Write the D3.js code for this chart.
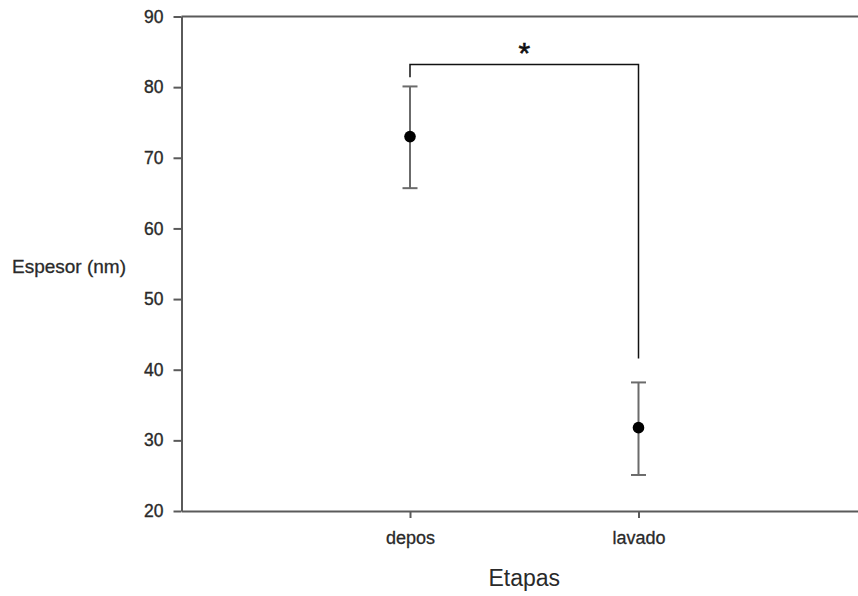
<!DOCTYPE html>
<html>
<head>
<meta charset="utf-8">
<script src="https://cdn.jsdelivr.net/npm/d3@7"></script>
<style>
  html, body { margin: 0; padding: 0; background: #fff; }
  svg { display: block; font-family: "Liberation Sans", Arial, sans-serif; }
</style>
</head>
<body>
<script>
// ---- data ----
const categories = ["depos", "lavado"];
const means = [73.0, 31.8];
const upper = [80.1, 38.2];
const lower = [65.7, 25.1];
const yTicks = [20, 30, 40, 50, 60, 70, 80, 90];
const bracketTop = 83.2;        // horizontal bracket level
const bracketEnds = [81.4, 41.6]; // where each leg stops
const sigLabel = "*";
const xTitle = "Etapas";
const yTitle = "Espesor (nm)";

const W = 858, H = 596;
const svg = d3.select("body").append("svg").attr("width", W).attr("height", H);

const x = d3.scaleLinear().domain([0, 3]).range([181.5, 867]);
const y = d3.scaleLinear().domain([20, 90]).range([511, 16.5]);

const axisColor = "#5a5a5a";
const textColor = "#2a2a2a";

// left axis
const yAxis = svg.append("g").attr("transform", `translate(${x(0)},0)`)
  .call(d3.axisLeft(y).tickValues(yTicks).tickSize(8).tickSizeOuter(0).tickPadding(10).tickFormat(d3.format("d")));
yAxis.select(".domain").attr("stroke", axisColor).attr("stroke-width", 2);
yAxis.selectAll(".tick line").attr("stroke", axisColor).attr("stroke-width", 2);
yAxis.selectAll(".tick text").attr("fill", textColor).style("font-size", "17.5px")
  .attr("stroke", textColor).attr("stroke-width", 0.35)
  .style("font-family", "'Liberation Sans', Arial, sans-serif");

// top line
svg.append("line").attr("x1", x(0)).attr("x2", W).attr("y1", y(90)).attr("y2", y(90))
  .attr("stroke", axisColor).attr("stroke-width", 2);

// bottom axis
const xAxis = svg.append("g").attr("transform", `translate(0,${y(20)})`)
  .call(d3.axisBottom(x).tickValues([1, 2]).tickFormat(d => categories[d - 1]).tickSize(7).tickSizeOuter(0).tickPadding(13));
xAxis.select(".domain").attr("stroke", axisColor).attr("stroke-width", 2);
xAxis.selectAll(".tick line").attr("stroke", axisColor).attr("stroke-width", 2);
xAxis.selectAll(".tick text").attr("fill", textColor).style("font-size", "18px")
  .attr("stroke", textColor).attr("stroke-width", 0.3)
  .style("font-family", "'Liberation Sans', Arial, sans-serif");

// axis titles
svg.append("text").attr("x", x(1.5)).attr("y", 586).attr("text-anchor", "middle")
  .attr("fill", textColor).style("font-size", "23px").text(xTitle);
svg.append("text").attr("x", 12).attr("y", 273).attr("text-anchor", "start")
  .attr("fill", textColor).attr("stroke", textColor).attr("stroke-width", 0.3)
  .style("font-size", "19px").text(yTitle);

// error bars
const errColor = "#6b6b6b";
const g = svg.append("g");
categories.forEach((c, i) => {
  const cx = x(i + 1);
  g.append("line").attr("x1", cx).attr("x2", cx).attr("y1", y(upper[i])).attr("y2", y(lower[i]))
    .attr("stroke", errColor).attr("stroke-width", 2);
  [upper[i], lower[i]].forEach(v => {
    g.append("line").attr("x1", cx - 7.5).attr("x2", cx + 7.5).attr("y1", y(v)).attr("y2", y(v))
      .attr("stroke", errColor).attr("stroke-width", 2);
  });
  g.append("circle").attr("cx", cx).attr("cy", y(means[i])).attr("r", 5.8).attr("fill", "#000");
});

// significance bracket
svg.append("path")
  .attr("d", `M${x(1)},${y(bracketEnds[0])} V${y(bracketTop)} H${x(2)} V${y(bracketEnds[1])}`)
  .attr("fill", "none").attr("stroke", "#111").attr("stroke-width", 1.5);
svg.append("text").attr("x", x(1.5)).attr("y", 63).attr("text-anchor", "middle")
  .attr("fill", "#111").attr("stroke", "#111").attr("stroke-width", 0.6)
  .style("font-size", "30px").text(sigLabel);
</script>
</body>
</html>
